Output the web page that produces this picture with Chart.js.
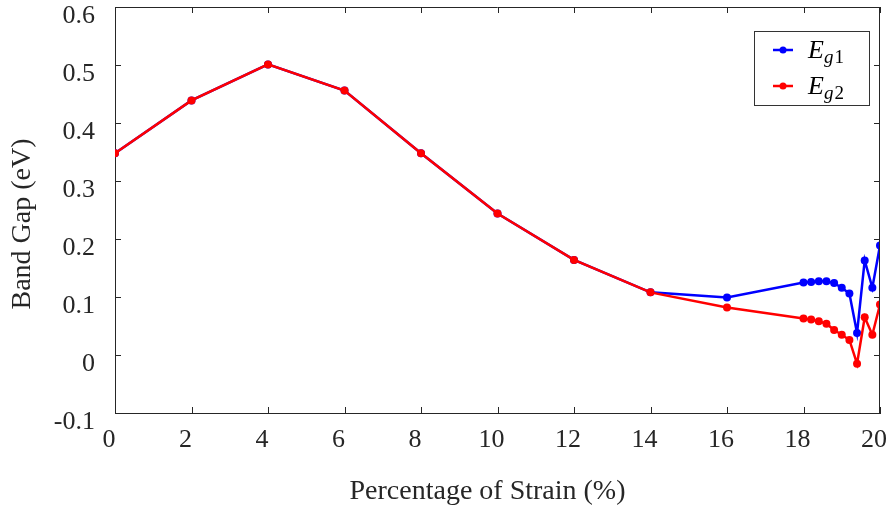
<!DOCTYPE html>
<html>
<head>
<meta charset="utf-8">
<script src="https://cdn.jsdelivr.net/npm/chart.js@4"></script>
<style>
  html, body { margin: 0; padding: 0; background: #fff; }
  #wrap { width: 891px; height: 515px; }
</style>
</head>
<body>
<div id="wrap"><canvas id="gap"></canvas></div>
<script>
// strain (%) and the two band gaps
const strain = [0, 2, 4, 6, 8, 10, 12, 14, 16, 18, 18.2, 18.4, 18.6, 18.8, 19, 19.2, 19.4, 19.6, 19.8, 20]
const eg1 = [0.348, 0.439, 0.501, 0.456, 0.348, 0.244, 0.164, 0.108, 0.099, 0.125, 0.126, 0.127, 0.127, 0.124, 0.116, 0.106, 0.038, 0.163, 0.116, 0.189]
const eg2 = [0.348, 0.439, 0.501, 0.456, 0.348, 0.244, 0.164, 0.108, 0.082, 0.063, 0.061, 0.058, 0.054, 0.043, 0.035, 0.026, -0.015, 0.065, 0.035, 0.087]
const seriesNames = ['g1', 'g2']
const seriesColors = ['#0000ff', '#ff0000']
const xTitle = 'Percentage of Strain (%)'
const yTitle = 'Band Gap (eV)'

const serif = '"Liberation Serif", "Times New Roman", serif'
const axisColor = '#262626'

function toPoints(ys) {
  return strain.map((x, i) => ({x: x, y: ys[i]}))
}

function makeSet(ys, i, order) {
  return {
    label: seriesNames[i],
    data: toPoints(ys),
    borderColor: seriesColors[i],
    backgroundColor: seriesColors[i],
    borderWidth: 2.5,
    pointRadius: 4,
    pointBorderWidth: 0,
    tension: 0,
    order: order
  }
}

// inward tick marks on all four sides, top/right frame, axis titles, legend
const frame = {
  id: 'frame',
  afterDraw(chart) {
    const ctx = chart.ctx
    const a = chart.chartArea
    const xs = chart.scales.x
    const ys = chart.scales.y
    const len = 6
    ctx.save()
    ctx.strokeStyle = axisColor
    ctx.lineWidth = 1
    ctx.beginPath()
    ctx.moveTo(a.left, a.top + 0.5)
    ctx.lineTo(a.right, a.top + 0.5)
    ctx.moveTo(a.right - 0.5, a.top)
    ctx.lineTo(a.right - 0.5, a.bottom)
    xs.ticks.forEach(t => {
      const px = Math.round(xs.getPixelForValue(t.value)) + 0.5
      ctx.moveTo(px, a.bottom); ctx.lineTo(px, a.bottom - len)
      ctx.moveTo(px, a.top); ctx.lineTo(px, a.top + len)
    })
    ys.ticks.forEach(t => {
      const py = Math.round(ys.getPixelForValue(t.value)) + 0.5
      ctx.moveTo(a.left, py); ctx.lineTo(a.left + len, py)
      ctx.moveTo(a.right, py); ctx.lineTo(a.right - len, py)
    })
    ctx.stroke()

    // axis titles
    ctx.fillStyle = '#262626'
    ctx.font = '28px ' + serif
    ctx.textAlign = 'center'
    ctx.textBaseline = 'middle'
    ctx.fillText(xTitle, (a.left + a.right) / 2 - 10, 492)
    ctx.save()
    ctx.translate(23, (a.top + a.bottom) / 2 + 14)
    ctx.rotate(-Math.PI / 2)
    ctx.fillText(yTitle, 0, 0)
    ctx.restore()

    // legend box
    const bx = a.right - 126, by = a.top + 24, bw = 115, bh = 74
    ctx.fillStyle = '#fff'
    ctx.fillRect(bx, by, bw, bh)
    ctx.strokeStyle = '#333'
    ctx.lineWidth = 1
    ctx.strokeRect(bx + 0.5, by + 0.5, bw, bh)
    seriesNames.forEach((name, i) => {
      const cy = by + 19 + i * 36
      ctx.strokeStyle = seriesColors[i]
      ctx.fillStyle = seriesColors[i]
      ctx.lineWidth = 2.5
      ctx.beginPath()
      ctx.moveTo(bx + 19, cy); ctx.lineTo(bx + 39, cy)
      ctx.stroke()
      ctx.beginPath()
      ctx.arc(bx + 29, cy, 3.5, 0, Math.PI * 2)
      ctx.fill()
      ctx.fillStyle = '#000'
      ctx.textBaseline = 'alphabetic'
      ctx.textAlign = 'left'
      ctx.font = 'italic 26px ' + serif
      ctx.fillText('E', bx + 54, cy + 8)
      const ew = ctx.measureText('E').width
      ctx.font = 'italic 19px ' + serif
      ctx.fillText('g', bx + 54 + ew, cy + 13)
      const gw = ctx.measureText('g').width
      ctx.font = '19px ' + serif
      ctx.fillText(name.slice(1), bx + 54 + ew + gw + 1, cy + 13)
    })
    ctx.restore()
  }
}

new Chart(document.getElementById('gap'), {
  type: 'line',
  data: {
    datasets: [makeSet(eg1, 0, 1), makeSet(eg2, 1, 0)]
  },
  options: {
    responsive: true,
    maintainAspectRatio: false,
    animation: false,
    layout: {
      padding: {top: 7, right: 11, left: 0, bottom: 0}
    },
    plugins: {
      legend: {display: false},
      tooltip: {enabled: false}
    },
    scales: {
      x: {
        type: 'linear',
        min: 0,
        max: 20,
        ticks: {
          stepSize: 2,
          padding: 12,
          labelOffset: -6,
          color: '#262626',
          font: {family: serif, size: 26}
        },
        grid: {drawOnChartArea: false, drawTicks: false},
        border: {display: true, color: axisColor, width: 1},
        afterFit(scale) {
          scale.height = 102
          scale.paddingLeft = 0
          scale.paddingRight = 0
        }
      },
      y: {
        min: -0.1,
        max: 0.6,
        ticks: {
          stepSize: 0.1,
          padding: 20,
          labelOffset: 9,
          color: '#262626',
          font: {family: serif, size: 26},
          callback: v => String(Number(v.toFixed(1)))
        },
        grid: {drawOnChartArea: false, drawTicks: false},
        border: {display: true, color: axisColor, width: 1},
        afterFit(scale) {
          scale.width = 115
          scale.paddingTop = 0
          scale.paddingBottom = 0
        }
      }
    }
  },
  plugins: [frame]
})
</script>
</body>
</html>
